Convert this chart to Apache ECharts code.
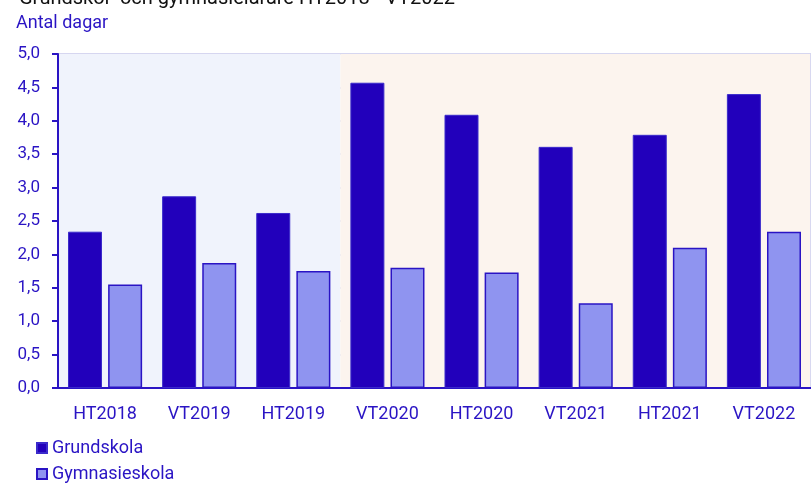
<!DOCTYPE html>
<html>
<head>
<meta charset="utf-8">
<script src="https://cdn.jsdelivr.net/npm/echarts@6/dist/echarts.min.js"></script>
<style>
  html, body { margin: 0; padding: 0; background: #fff; }
  #chart { width: 811px; height: 483px; }
</style>
</head>
<body>
<div id="chart"></div>
<script>
  // terminer
  var categories = ['HT2018', 'VT2019', 'HT2019', 'VT2020', 'HT2020', 'VT2021', 'HT2021', 'VT2022'];
  // antal dagar
  var grundskola = [2.34, 2.87, 2.62, 4.57, 4.09, 3.61, 3.79, 4.40];
  var gymnasieskola = [1.55, 1.87, 1.75, 1.80, 1.73, 1.27, 2.10, 2.34];
  var yTicks = ['0,0', '0,5', '1,0', '1,5', '2,0', '2,5', '3,0', '3,5', '4,0', '4,5', '5,0'];

  var blue = '#2a14c4';
  var legendText = { fontFamily: 'Roboto', fontSize: 18, color: blue };
  var chart = echarts.init(document.getElementById('chart'));
  var option = {
    backgroundColor: '#fff',
    textStyle: { fontFamily: 'Roboto' },
    title: {
      text: 'Grundskol- och gymnasielärare HT2018 - VT2022',
      left: 14, top: -16,
      textStyle: { fontFamily: 'Roboto', fontSize: 20, fontWeight: 'normal', color: '#111' }
    },
    graphic: [{
      type: 'text', left: 16, top: 14,
      style: { text: 'Antal dagar', fontFamily: 'Roboto', fontSize: 18, fill: blue }
    }],
    legend: [
      {
        left: 31, top: 434,
        itemWidth: 10, itemHeight: 10, itemGap: 0,
        icon: 'rect',
        textStyle: legendText,
        data: ['Grundskola']
      },
      {
        left: 31, top: 460,
        itemWidth: 10, itemHeight: 10, itemGap: 0,
        icon: 'rect',
        textStyle: legendText,
        data: ['Gymnasieskola']
      }
    ],
    grid: { left: 58, right: 0, top: 54, bottom: 95 },
    xAxis: {
      type: 'category',
      data: categories,
      axisLine: { lineStyle: { color: '#2a14c4', width: 2 } },
      axisTick: { show: false },
      axisLabel: { color: blue, fontSize: 18, margin: 17 },
      splitLine: {
        show: true,
        interval: function (i) { return i === 3; },
        lineStyle: { color: '#d8d8f0', width: 2 }
      },
      splitArea: {
        show: true,
        areaStyle: {
          color: ['#f0f3fc', '#f0f3fc', '#f0f3fc', '#fcf4ee', '#fcf4ee', '#fcf4ee', '#fcf4ee', '#fcf4ee']
        }
      }
    },
    yAxis: {
      type: 'value',
      min: 0, max: 5, interval: 0.5,
      axisLine: { show: true, lineStyle: { color: '#2a14c4', width: 2 } },
      axisTick: { show: true, length: 6, lineStyle: { color: '#2a14c4', width: 2 } },
      axisLabel: {
        color: blue, fontSize: 17, margin: 18,
        formatter: function (v) { return yTicks[Math.round(v * 2)]; }
      },
      splitLine: { lineStyle: { color: '#d6d6f0', width: 2 } }
    },
    series: [
      {
        name: 'Grundskola',
        type: 'bar',
        data: grundskola,
        barWidth: 34,
        barGap: '18%',
        itemStyle: { color: '#2200bb', borderColor: '#3a2acb', borderWidth: 1 }
      },
      {
        name: 'Gymnasieskola',
        type: 'bar',
        data: gymnasieskola,
        barWidth: 34,
        itemStyle: { color: '#8f94f0', borderColor: '#2a14c4', borderWidth: 1.5 }
      }
    ]
  };
  chart.setOption(option);
</script>
</body>
</html>
